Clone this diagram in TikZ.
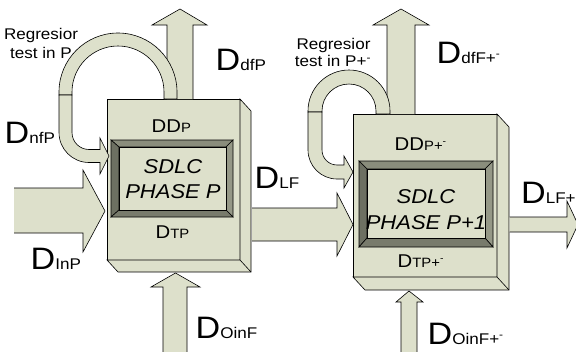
\documentclass[tikz,border=0pt]{standalone}
\usepackage{fontspec}
\setmainfont{Liberation Sans}[FakeStretch=1.1]
\definecolor{fillc}{RGB}{221,224,203}
\definecolor{bevtop}{RGB}{138,141,124}
\definecolor{bevleft}{RGB}{109,112,98}
\definecolor{bevbot}{RGB}{120,123,108}
\definecolor{bevright}{RGB}{149,152,135}
\newcommand{\bigD}[1]{{\fontsize{31}{31}\selectfont D}{\fontsize{15.5}{15.5}\selectfont #1}}
\newcommand{\smallD}[2]{{\fontsize{18.5}{18.5}\selectfont #1}{\fontsize{13.5}{13.5}\selectfont #2}}
\newcommand{\pmx}{+\textsuperscript{-}}
\tikzset{
  fillonly/.style={fill=fillc},
  edge/.style={draw=black, line width=0.6pt, line join=miter},
  shp/.style={fill=fillc, draw=black, line width=0.6pt, line join=miter},
  lbl/.style={inner sep=0pt, anchor=base west},
  ctr/.style={inner sep=0pt, anchor=base},
  regtxt/.style={ctr, font=\fontsize{15.5}{15.5}\selectfont},
  sdlc/.style={ctr, font=\fontsize{20}{20}\selectfont\itshape},
}
\begin{document}
\begin{tikzpicture}[x=1pt,y=-1pt]
\useasboundingbox (0,0) rectangle (576,351);

% ---------- Box 1 ----------
\draw[shp] (107,99) rectangle (240,260);
\draw[shp] (240,99) -- (251,111) -- (251,272) -- (118,272) -- (107,260) -- (240,260) -- cycle;
\draw[edge] (240,260) -- (251,272);
% frame 1
\draw[edge, fill=bevtop] (111,140) -- (233,140) -- (226,147) -- (119,147) -- cycle;
\draw[edge, fill=bevleft] (111,140) -- (119,147) -- (119,210) -- (111,217) -- cycle;
\draw[edge, fill=bevright] (233,140) -- (233,217) -- (226,210) -- (226,147) -- cycle;
\draw[edge, fill=bevbot] (111,217) -- (233,217) -- (226,210) -- (119,210) -- cycle;
\draw[shp] (119,147) rectangle (226,210);

% ---------- Box 2 ----------
\draw[shp] (353,114) rectangle (497,277);
\draw[shp] (497,114) -- (509,127) -- (509,290) -- (365,290) -- (353,277) -- (497,277) -- cycle;
\draw[edge] (497,277) -- (509,290);
% frame 2
\draw[edge, fill=bevtop] (359,161) -- (493,161) -- (485,169) -- (367,169) -- cycle;
\draw[edge, fill=bevleft] (359,161) -- (367,169) -- (367,238) -- (359,247) -- cycle;
\draw[edge, fill=bevright] (493,161) -- (493,247) -- (485,238) -- (485,169) -- cycle;
\draw[edge, fill=bevbot] (359,247) -- (493,247) -- (485,238) -- (367,238) -- cycle;
\draw[shp] (367,169) rectangle (485,238);

% ---------- Up arrows ----------
\fill[fillonly] (167,99) -- (167,25) -- (152,25) -- (180,9) -- (207,25) -- (193,25) -- (193,99) -- cycle;
\draw[edge] (167,99) -- (167,25) -- (152,25) -- (180,9) -- (207,25) -- (193,25) -- (193,99);
\fill[fillonly] (387,114) -- (387,25) -- (373,25) -- (401,9) -- (429,25) -- (415,25) -- (415,114) -- cycle;
\draw[edge] (387,114) -- (387,25) -- (373,25) -- (401,9) -- (429,25) -- (415,25) -- (415,114);

% ---------- Loop 1 ----------
\draw[shp] (59,95) -- (59,92) arc[start angle=180, end angle=360, radius=59] -- (177,99) -- (164,99) -- (164,92)
  arc[start angle=360, end angle=180, radius=46] -- (72,95) -- cycle;
\draw[shp] (59,95) -- (59,132.5) arc[start angle=180, end angle=90, radius=30] -- (100,162.5) -- (100,174)
  -- (109,156) -- (100,138) -- (100,149.5) -- (89,149.5) arc[start angle=90, end angle=180, radius=17] -- (72,95) -- cycle;

% ---------- Loop 2 ----------
\draw[shp] (308,112) -- (308,111) arc[start angle=180, end angle=360, radius=41] -- (390,114) -- (376,114) -- (376,111)
  arc[start angle=360, end angle=180, radius=27] -- (322,112) -- cycle;
\draw[shp] (308,112) -- (308,150) arc[start angle=180, end angle=90, radius=29] -- (344,179) -- (344,188)
  -- (353,172) -- (344,156) -- (344,165) -- (337,165) arc[start angle=90, end angle=180, radius=15] -- (322,112) -- cycle;

% ---------- Horizontal arrows ----------
\fill[fillonly] (14,188) -- (83,188) -- (83,170) -- (105,211) -- (83,252) -- (83,233) -- (14,233) -- cycle;
\draw[edge] (14,188) -- (83,188) -- (83,170) -- (105,211) -- (83,252) -- (83,233) -- (14,233);
\fill[fillonly] (252,208) -- (337,208) -- (337,193) -- (353,224.5) -- (337,256) -- (337,241) -- (252,241) -- cycle;
\draw[edge] (252,208) -- (337,208) -- (337,193) -- (353,224.5) -- (337,256) -- (337,241) -- (252,241);
\fill[fillonly] (509.5,217) -- (567,217) -- (567,201) -- (578,224.5) -- (567,248) -- (567,232) -- (509.5,232) -- cycle;
\draw[edge] (509.5,217) -- (567,217) -- (567,201) -- (578,224.5) -- (567,248) -- (567,232) -- (509.5,232);

% ---------- Bottom arrows ----------
\fill[fillonly] (163,355) -- (163,287) -- (151,287) -- (175.5,273) -- (200,287) -- (187,287) -- (187,355) -- cycle;
\draw[edge] (163,355) -- (163,287) -- (151,287) -- (175.5,273) -- (200,287) -- (187,287) -- (187,355);
\fill[fillonly] (401,355) -- (401,302) -- (396,302) -- (409,291) -- (423,302) -- (417,302) -- (417,355) -- cycle;
\draw[edge] (401,355) -- (401,302) -- (396,302) -- (409,291) -- (423,302) -- (417,302) -- (417,355);

% ---------- Texts ----------
\node[sdlc] (s1a) at (173,173) {SDLC};
\node[sdlc] (s1b) at (173,198) {PHASE P};
\node[sdlc] (s2a) at (426,203) {SDLC};
\node[sdlc] (s2b) at (426,229) {PHASE P+1};

\node[regtxt] (r1a) at (41,39.5) {Regresior};
\node[regtxt] (r1b) at (41,58) {test in P};
\node[regtxt] (r2a) at (333.5,49.3) {Regresior};
\node[regtxt] (r2b) at (333,66.7) {test in P\pmx};

\node[lbl] (ddfp) at (215.5,70) {\bigD{dfP}};
\node[lbl] (dnfp) at (4.5,143) {\bigD{nfP}};
\node[lbl] (dinp) at (30.5,269) {\bigD{InP}};
\node[lbl] (doinf) at (195.5,338) {\bigD{OinF}};
\node[lbl] (dlf) at (254.5,188) {\bigD{LF}};
\node[lbl] (dlfpm) at (521,203) {\bigD{LF\pmx}};
\node[lbl] (doinfpm) at (427.5,344) {\bigD{OinF\pmx}};
\node[lbl] (ddffpm) at (436.5,63) {\bigD{dfF\pmx}};

\node[lbl] (ddp) at (151.5,132) {\smallD{DD}{P}};
\node[lbl] (dtp) at (155.5,238) {\smallD{D}{TP}};
\node[lbl] (ddppm) at (394.5,150) {\smallD{DD}{P\pmx}};
\node[lbl] (dtppm) at (397.5,267) {\smallD{D}{TP\pmx}};
\end{tikzpicture}
\end{document}
